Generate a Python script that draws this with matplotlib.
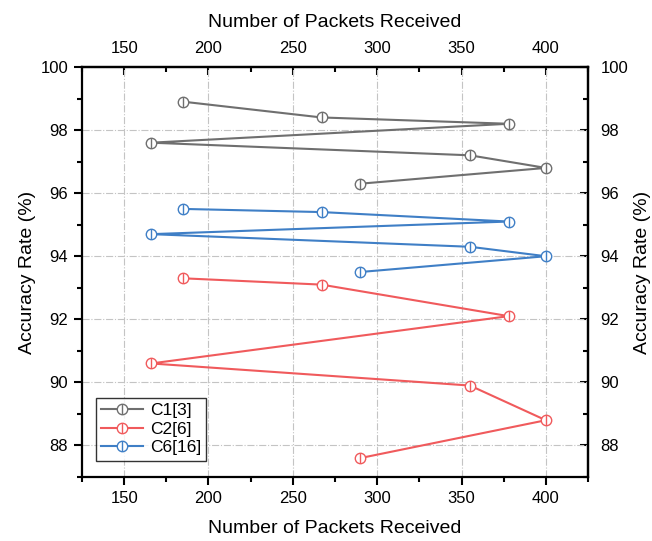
import matplotlib
matplotlib.use("Agg")
import matplotlib.pyplot as plt
from matplotlib.ticker import MultipleLocator

plt.rcParams['font.family'] = ['Liberation Sans', 'DejaVu Sans']

packets = [185, 267, 378, 166, 355, 400, 290]
c1 = [98.9, 98.4, 98.2, 97.6, 97.2, 96.8, 96.3]
c2 = [93.3, 93.1, 92.1, 90.6, 89.9, 88.8, 87.6]
c6 = [95.5, 95.4, 95.1, 94.7, 94.3, 94.0, 93.5]
labels = ['C1[3]', 'C2[6]', 'C6[16]']
colors = ['#6f6f6f', '#f05a5c', '#3f7fc6']

fig = plt.figure(figsize=(6.52, 5.41), dpi=100)
ax = fig.add_axes([82/652, 1-477/541, (588-82)/652, (477-67)/541])

handles = []
for ys, lab, col in zip([c1, c2, c6], labels, colors):
    ln, = ax.plot(packets, ys, color=col, lw=1.5, marker='o', ms=7.5,
                  mfc='white', mec=col, mew=1.0, zorder=3)
    bar, = ax.plot(packets, ys, ls='none', marker='|', ms=7.5, mec=col,
                   mew=1.0, zorder=4)
    handles.append((ln, bar))

ax.set_xlim(125, 425)
ax.set_ylim(87, 100)
ax.xaxis.set_major_locator(MultipleLocator(50))
ax.xaxis.set_minor_locator(MultipleLocator(25))
ax.yaxis.set_major_locator(MultipleLocator(2))
ax.yaxis.set_minor_locator(MultipleLocator(1))

ax.grid(True, which='major', color='#c4c4c4', ls='-.', lw=0.8, zorder=0)

for s in ax.spines.values():
    s.set_linewidth(1.6)

ax.tick_params(which='major', direction='out', length=6, width=1.5,
               labelsize=12, pad=4)
ax.tick_params(which='minor', direction='out', length=3.5, width=1.5)

ax.set_xlabel('Number of Packets Received', fontsize=14, labelpad=10)
ax.set_ylabel('Accuracy Rate (%)', fontsize=14, labelpad=3)

secx = ax.secondary_xaxis('top', functions=(lambda x: x, lambda x: x))
secx.xaxis.set_major_locator(MultipleLocator(50))
secx.xaxis.set_minor_locator(MultipleLocator(25))
secx.tick_params(which='major', direction='in', length=6, width=1.5,
                 labelsize=12, pad=8)
secx.tick_params(which='minor', direction='in', length=3.5, width=1.5)
secx.spines['top'].set_linewidth(1.6)
secx.set_xlabel('Number of Packets Received', fontsize=14, labelpad=10)

secy = ax.secondary_yaxis('right', functions=(lambda y: y, lambda y: y))
secy.yaxis.set_major_locator(MultipleLocator(2))
secy.yaxis.set_minor_locator(MultipleLocator(1))
secy.tick_params(which='major', direction='in', length=6, width=1.5,
                 labelsize=12, pad=9)
secy.tick_params(which='minor', direction='in', length=3.5, width=1.5)
secy.spines['right'].set_linewidth(1.6)
secy.set_ylabel('Accuracy Rate (%)', fontsize=14, labelpad=4)

leg = ax.legend(handles, labels, loc='lower left', bbox_to_anchor=(0.028, 0.04),
                fontsize=12.5, frameon=True, fancybox=False, edgecolor='black',
                handlelength=2.4, handletextpad=0.4, labelspacing=0.2,
                borderpad=0.3, borderaxespad=0)
leg.get_frame().set_linewidth(1.0)

fig.savefig('out.png', dpi=100)
